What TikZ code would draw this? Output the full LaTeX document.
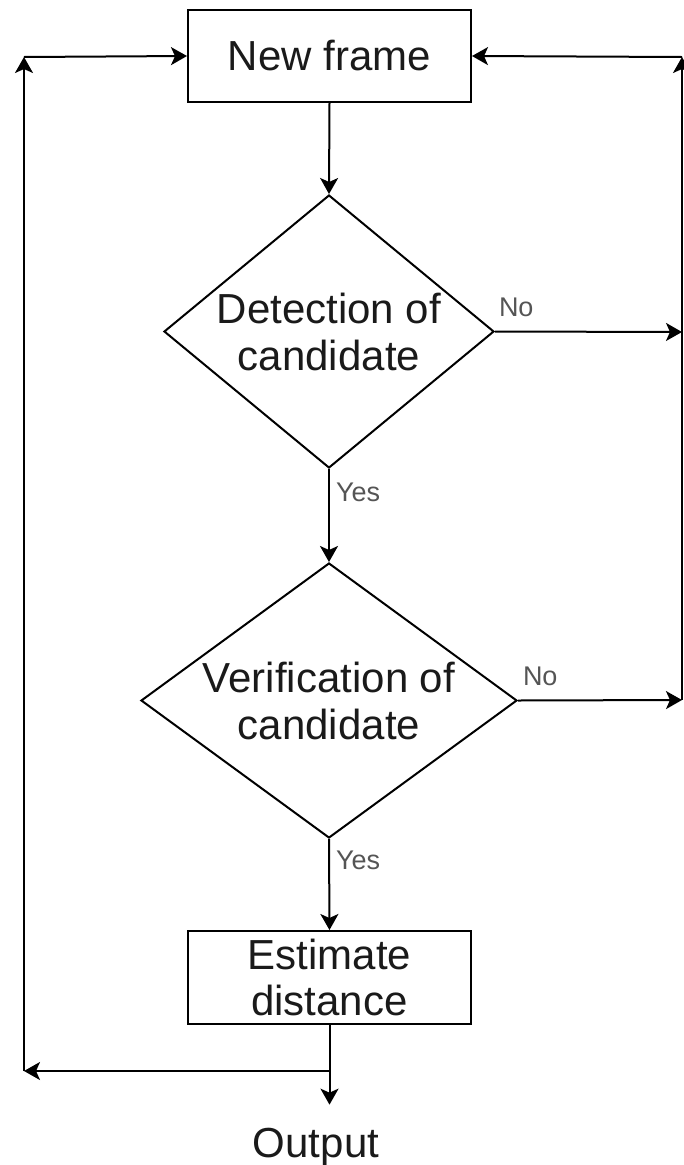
\documentclass[tikz,border=0pt]{standalone}
\usepackage{fontspec}
\setmainfont{Liberation Sans}
\usetikzlibrary{shapes.geometric,arrows.meta}
\definecolor{txt}{HTML}{1A1A1A}
\definecolor{lbl}{HTML}{555555}
\begin{document}
\begin{tikzpicture}[x=1pt,y=-1pt,
  line width=2pt,
  flow/.style={-{Stealth[length=16pt,width=18pt,inset=4pt]}},
  procbox/.style={draw,rectangle,minimum width=283pt,minimum height=92pt,
    inner sep=0pt,align=center,text=txt,font=\fontsize{42}{46}\selectfont},
  decision/.style={draw,diamond,inner sep=0pt},
  dtext/.style={align=center,text=txt,inner sep=0pt,font=\fontsize{42}{47}\selectfont},
  edgelabel/.style={text=lbl,font=\fontsize{27}{30}\selectfont,inner sep=0pt}]
\useasboundingbox (0,0) rectangle (684,1165);

% process and decision nodes
\node[procbox] (nf) at (329.5,56) {New frame};
\node[decision,minimum width=330pt,minimum height=273pt] (d1) at (329,331.5) {};
\node[dtext] (d1t) at (d1.center) {Detection of\\candidate};
\node[decision,minimum width=376pt,minimum height=275pt] (d2) at (329,700.5) {};
\node[dtext] (d2t) at (d2.center) {Verification of\\candidate};
\node[procbox,minimum height=93pt] (est) at (329.5,977.5) {Estimate\\distance};
\node[text=txt,font=\fontsize{42}{46}\selectfont,anchor=base,inner ysep=22pt,inner xsep=0pt]
  (out) at (316,1157) {Output};

% loop-back corner points
\coordinate (jn) at (329,1071);
\coordinate (lb) at (24,1071);
\coordinate (lt) at (24,57);
\coordinate (r1) at (682,332);
\coordinate (r2) at (682,700);
\coordinate (rt) at (682,57);

% main flow
\draw[flow] (nf.south) -- (d1.north);
\draw[flow] (d1.south) -- (d2.north);
\draw[flow] (d2.south) -- (est.north);
\draw[flow] (est.south) -- (est.south |- out.north);

% "No" branches back to the top
\draw[flow] (d1.east) -- (r1);
\draw[flow] (d2.east) -- (r2);
\draw[flow] (r2) -- (rt);
\draw[flow] (rt) -- (nf.east);

% loop after the estimate
\draw[flow] (jn) -- (lb);
\draw[flow] (lb) -- (lt);
\draw[flow] (lt) -- (nf.west);

% branch labels
\node[edgelabel,anchor=west] (yes1) at (335,492) {Yes};
\node[edgelabel,anchor=west] (yes2) at (335,860) {Yes};
\node[edgelabel,anchor=west] (no1) at (498,307) {No};
\node[edgelabel,anchor=west] (no2) at (522,676) {No};
\end{tikzpicture}
\end{document}
